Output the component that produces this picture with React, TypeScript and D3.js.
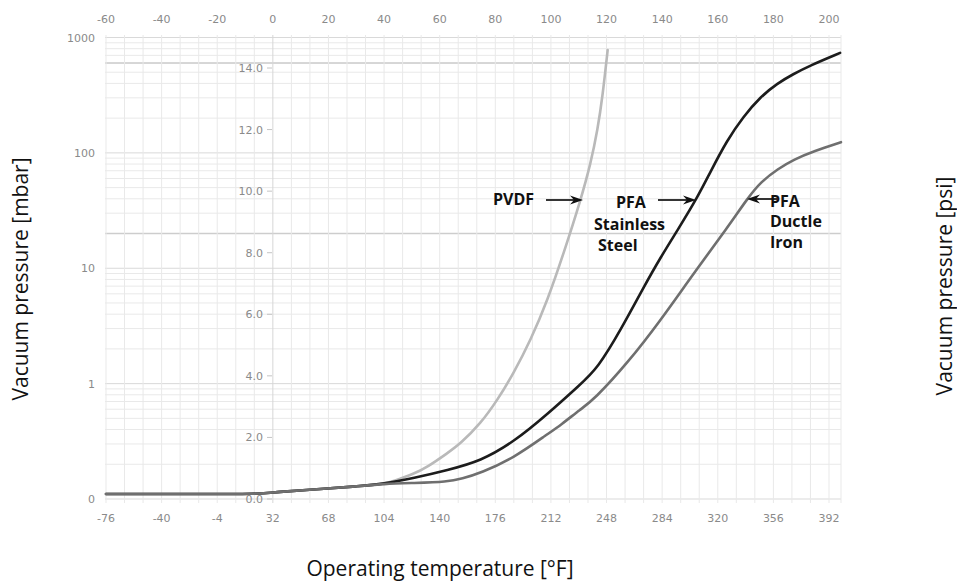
import React from "react";
import * as d3 from "d3";

// ---- Data ----
const celsiusTicks = [-60, -40, -20, 0, 20, 40, 60, 80, 100, 120, 140, 160, 180, 200];
const fahrenheitTicks = [-76, -40, -4, 32, 68, 104, 140, 176, 212, 248, 284, 320, 356, 392];
const mbarTicks = [1000, 100, 10, 1, 0.1];
const mbarLabels = ["1000", "100", "10", "1", "0"];
const psiTicks = [0, 2, 4, 6, 8, 10, 12, 14];

// shared low-temperature segment (°C, psi)
const sharedTemp = [-60, -30, -4, 0, 20, 30, 40];
const sharedPsi = [0.16, 0.16, 0.16, 0.22, 0.34, 0.41, 0.49];

const pvdfTemp = [43.3, 50.6, 55.6, 62.8, 67.5, 74.7, 80.8, 86.6, 92.7, 98.8, 104.6, 110.7, 114.3, 116.8, 118.6, 120.4];
const pvdfPsi = [0.58, 0.81, 1.04, 1.49, 1.8, 2.45, 3.22, 4.09, 5.16, 6.46, 7.99, 9.71, 10.9, 12.0, 13.1, 14.58];

const steelTemp = [50.6, 62.8, 74.7, 86.6, 98.8, 110.7, 116.8, 125.1, 133.4, 139.5, 145.6, 152.6, 157.3, 163.4, 169.1, 175.3, 181.4, 187.1, 193.2, 204.0];
const steelPsi = [0.68, 0.94, 1.23, 1.85, 2.76, 3.73, 4.25, 5.49, 6.89, 7.86, 8.74, 9.78, 10.62, 11.66, 12.41, 13.06, 13.5, 13.8, 14.08, 14.49];

const ironTemp = [50.6, 62.8, 68, 74.7, 86.6, 98.8, 103.5, 110.7, 115.4, 127.6, 139.5, 151.4, 163.6, 170.8, 175.5, 181.6, 187.4, 194.6, 204.3];
const ironPsi = [0.52, 0.56, 0.66, 0.84, 1.33, 2.11, 2.4, 2.92, 3.22, 4.42, 5.81, 7.34, 8.83, 9.78, 10.3, 10.72, 11.03, 11.3, 11.59];

const seriesNames = ["PVDF", "PFA Stainless Steel", "PFA Ductle Iron"];

type Pt = [number, number];
const zip = (t: number[], p: number[]): Pt[] => t.map((v, i) => [v, p[i]] as Pt);

export default function App() {
  const x = d3.scaleLinear().domain([-60, 200]).range([106, 829]);
  const yMbar = d3.scaleLog().domain([0.1, 1000]).range([499, 37.5]);
  const yPsi = d3.scaleLinear().domain([0, 14]).range([499, 68]);
  const f2c = (f: number) => ((f - 32) * 5) / 9;

  const left = 105;
  const right = 841;
  const top = 35;
  const bottom = 503;

  // vertical grid every 12 °F
  const vGrid: number[] = [];
  for (let f = -76; x(f2c(f)) <= right + 0.5; f += 12) vGrid.push(x(f2c(f)));

  // log grid for mbar
  const hGrid: { y: number; major: boolean }[] = [];
  [0.1, 1, 10, 100].forEach((d) => {
    for (let k = 1; k <= 9; k++) hGrid.push({ y: yMbar(k * d), major: k === 1 });
  });
  hGrid.push({ y: yMbar(1000), major: true });
  const darkLines = [600, 20];

  const line = d3
    .line<Pt>()
    .x((d) => x(d[0]))
    .y((d) => yPsi(d[1]))
    .curve(d3.curveBasis);

  const shared = zip(sharedTemp, sharedPsi);
  const series = [
    { name: seriesNames[0], pts: shared.concat(zip(pvdfTemp, pvdfPsi)), color: "#b9b9b9" },
    { name: seriesNames[1], pts: shared.concat(zip(steelTemp, steelPsi)), color: "#1c1c1c" },
    { name: seriesNames[2], pts: shared.concat(zip(ironTemp, ironPsi)), color: "#6f6f6f" },
  ];

  const tickFont = "'DejaVu Sans', sans-serif";
  const titleFont = "'Open Sans', 'Noto Sans', sans-serif";
  const tickColor = "#8a8a8a";

  const arrow = (x1: number, x2: number, y: number) => {
    const dir = Math.sign(x2 - x1);
    const L = 13;
    const W = 4.5;
    const n = 4;
    const head = `M${x2},${y} L${x2 - dir * L},${y - W} L${x2 - dir * (L - n)},${y} L${x2 - dir * L},${y + W} Z`;
    return (
      <g>
        <line x1={x1} y1={y} x2={x2 - dir * (L - n)} y2={y} stroke="#111" strokeWidth={1.7} />
        <path d={head} fill="#111" />
      </g>
    );
  };

  return (
    <svg
      width={957}
      height={582}
      style={{ position: "absolute", left: 0, top: 0, background: "#fff" }}
    >
      <rect width={957} height={582} fill="#fff" />
      {/* grid */}
      <g>
        {hGrid.map((g, i) => (
          <line
            key={"h" + i}
            x1={left}
            x2={right}
            y1={g.y}
            y2={g.y}
            stroke={g.major ? "#d9d9d9" : "#e9e9e9"}
            strokeWidth={1}
          />
        ))}
        {darkLines.map((v) => (
          <line
            key={"d" + v}
            x1={left}
            x2={right}
            y1={yMbar(v)}
            y2={yMbar(v)}
            stroke="#cdcdcd"
            strokeWidth={1.5}
          />
        ))}
        {vGrid.map((vx, i) => (
          <line
            key={"v" + i}
            x1={vx}
            x2={vx}
            y1={top}
            y2={bottom}
            stroke={Math.abs(vx - x(0)) < 0.5 ? "#d6d6d6" : "#e9e9e9"}
            strokeWidth={1}
          />
        ))}
        <line x1={right} x2={right} y1={top} y2={bottom} stroke="#e9e9e9" />
      </g>

      {/* top °C ticks */}
      <g fontFamily={tickFont} fontSize={11} fill={tickColor} textAnchor="middle">
        {celsiusTicks.map((c) => (
          <text key={"c" + c} x={x(c)} y={23}>
            {c}
          </text>
        ))}
      </g>
      {/* bottom °F ticks */}
      <g fontFamily={tickFont} fontSize={11} fill={tickColor} textAnchor="middle">
        {fahrenheitTicks.map((f) => (
          <text key={"f" + f} x={x(f2c(f))} y={522}>
            {f}
          </text>
        ))}
      </g>
      {/* left mbar ticks */}
      <g fontFamily={tickFont} fontSize={11} fill={tickColor} textAnchor="end">
        {mbarTicks.map((m, i) => (
          <text key={"m" + m} x={95} y={yMbar(m) + 4}>
            {mbarLabels[i]}
          </text>
        ))}
      </g>
      {/* inner psi ticks */}
      <g fontFamily={tickFont} fontSize={11} fill={tickColor} textAnchor="end">
        {psiTicks.map((p) => (
          <g key={"p" + p}>
            <text x={263} y={yPsi(p) + 4}>
              {p.toFixed(1)}
            </text>
            <line x1={267} x2={272} y1={yPsi(p)} y2={yPsi(p)} stroke="#c4c4c4" />
          </g>
        ))}
      </g>

      {/* curves */}
      <g fill="none" strokeLinecap="round" strokeLinejoin="round">
        {series.map((s) => (
          <path key={s.name} d={line(s.pts) || ""} stroke={s.color} strokeWidth={2.6} />
        ))}
      </g>

      {/* annotations */}
      <g fontFamily={titleFont} fontWeight="bold" fontSize={16} fill="#111">
        <text x={493} y={205}>PVDF</text>
        {arrow(546, 583, 200)}
        <text x={616} y={208}>PFA</text>
        <text x={594} y={230}>Stainless</text>
        <text x={598} y={250.5}>Steel</text>
        {arrow(658, 696, 200)}
        <text x={770} y={207}>PFA</text>
        <text x={770} y={227}>Ductle</text>
        <text x={770} y={248}>Iron</text>
        {arrow(777, 747, 199)}
      </g>

      {/* axis titles */}
      <g fontFamily={titleFont} fontSize={21} fill="#111">
        <text transform="translate(28,279) rotate(-90)" textAnchor="middle">
          Vacuum pressure [mbar]
        </text>
        <text transform="translate(952,286) rotate(-90)" textAnchor="middle">
          Vacuum pressure [psi]
        </text>
        <text x={440} y={576} textAnchor="middle">
          Operating temperature [°F]
        </text>
      </g>
    </svg>
  );
}
